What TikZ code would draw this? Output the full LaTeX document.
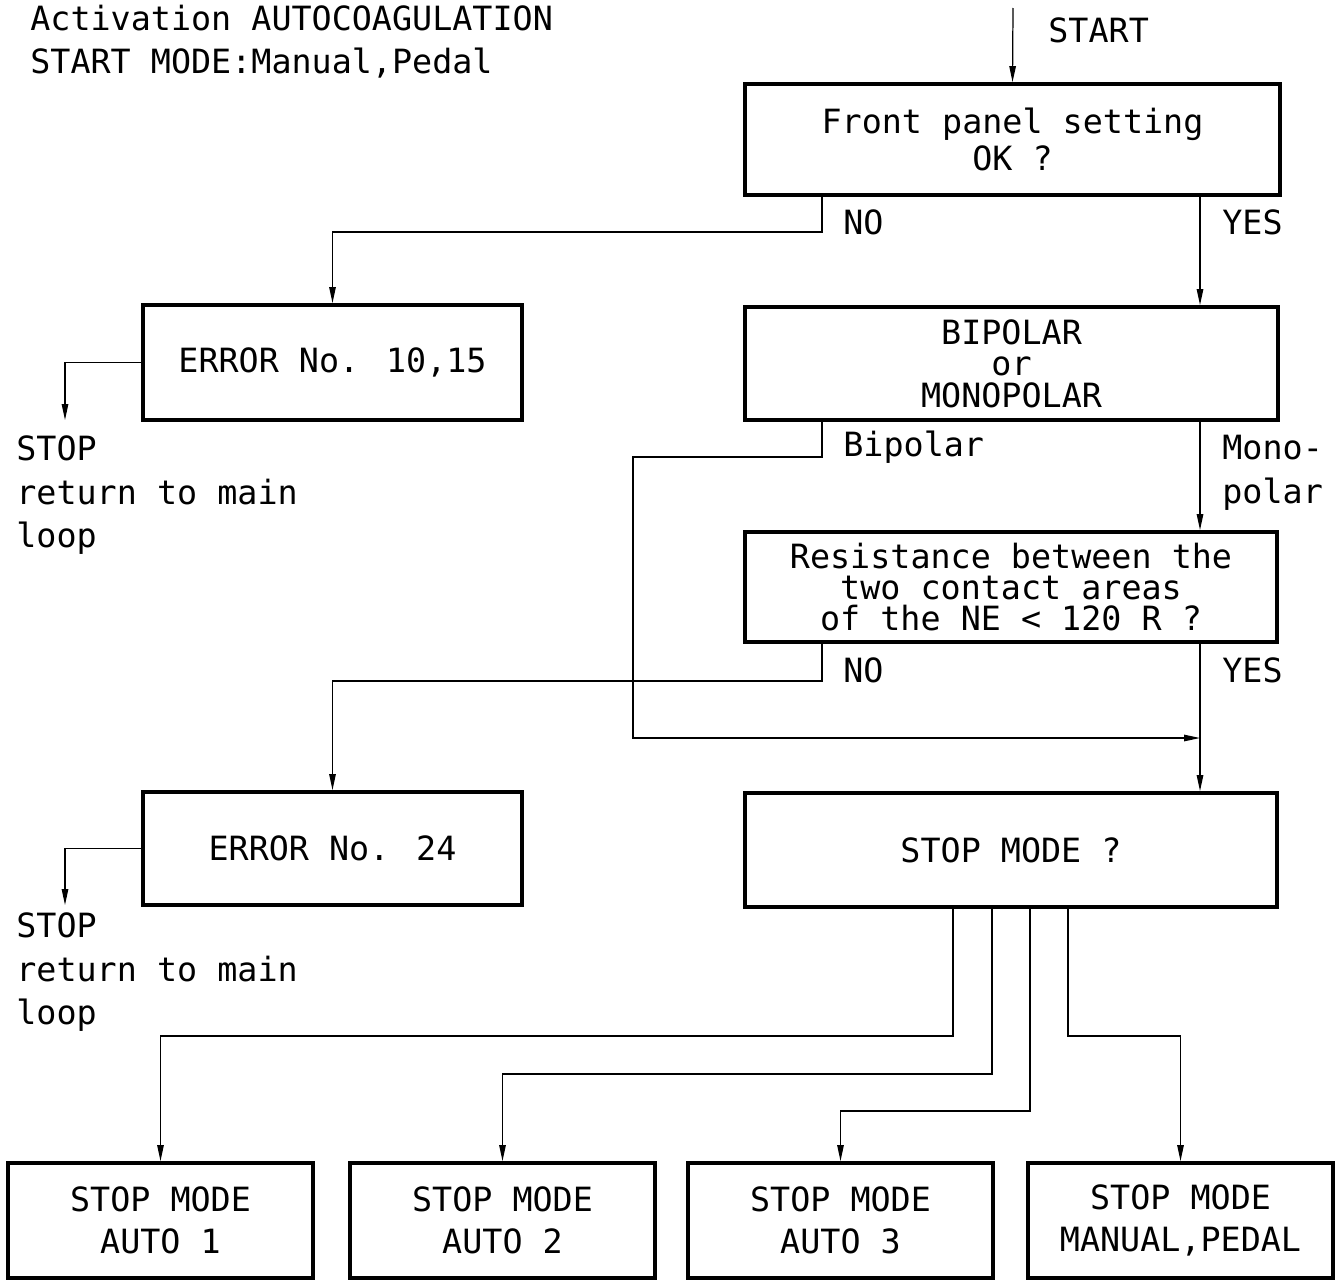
\documentclass[tikz,border=0pt]{standalone}
\usepackage{fontspec}
\setmainfont{DejaVu Sans Mono}
\usetikzlibrary{arrows.meta}

\begin{document}
\begin{tikzpicture}[
  x=0.02cm, y=-0.02cm,
  font=\fontsize{19}{18}\selectfont,
  box/.style={draw, line width=2.2pt, align=center, inner sep=0pt},
  arr/.style={-{Triangle[length=3.2mm, width=1.3mm]}, line width=0.7pt},
  lab/.style={anchor=west, inner sep=0pt, align=left}
]
\useasboundingbox (0,0) rectangle (1337,1281);
% heading
\node[lab, anchor=base west] (title) at (30,31) {Activation AUTOCOAGULATION};
\node[lab, anchor=base west] (smode) at (30,73) {START MODE:Manual,Pedal};
% decision boxes
\node[box, minimum width=535*0.02cm, minimum height=111*0.02cm, font=\fontsize{19}{21.5}\selectfont] (front) at (1012.5,139.5) {Front panel setting\\OK ?};
\node[box, minimum width=533*0.02cm, minimum height=113*0.02cm] (bimono) at (1011.5,363.5) {BIPOLAR\\or\\MONOPOLAR};
\node[box, minimum width=532*0.02cm, minimum height=110*0.02cm, font=\fontsize{19}{17.6}\selectfont] (resist) at (1011,587) {Resistance between the\\two contact areas\\of the NE < 120 R ?};
\node[box, minimum width=532*0.02cm, minimum height=114*0.02cm] (stopq) at (1011,850) {STOP MODE ?};
% error boxes
\node[box, minimum width=379*0.02cm, minimum height=115*0.02cm] (err1) at (332.5,362.5) {ERROR No. 10,15};
\node[box, minimum width=379*0.02cm, minimum height=113*0.02cm] (err2) at (332.5,848.5) {ERROR No. 24};
% result boxes
\foreach \name/\cx/\txt in {auto1/160.5/AUTO 1, auto2/502.5/AUTO 2, auto3/840.5/AUTO 3, manped/1180.5/{MANUAL,PEDAL}}
  \node[box, minimum width=305*0.02cm, minimum height=115*0.02cm, font=\fontsize{19}{24}\selectfont] (\name) at (\cx,1220.5) {STOP MODE\\\txt};
% stop texts
\node[lab, font=\fontsize{19}{25}\selectfont, anchor=north west] (stop1) at (16,435) {STOP\\return to main\\loop};
\node[lab, font=\fontsize{19}{25}\selectfont, anchor=north west] (stop2) at (16,912) {STOP\\return to main\\loop};
% tap points
\coordinate (start) at (1013,8);
\coordinate (fpno) at (822,195);
\coordinate (fpyes) at (1200,195);
\coordinate (bpl) at (822,420);
\coordinate (mono) at (1200,420);
\coordinate (rsno) at (822,642);
\coordinate (rsyes) at (1200,642);
\coordinate (merge) at (1200,738);
\coordinate (stop1tip) at (65,420);
\coordinate (stop2tip) at (65,905);
% arrows
\draw[arr] (start) -- (front.north);
\node[lab] (startlab) at (1048,30) {START};
\draw[arr] (fpno) -- ++(0,37) -| (err1.north);
\node[lab] (no1) at (843,222) {NO};
\draw[arr] (fpyes) -- (fpyes |- bimono.north);
\node[lab] (yes1) at (1222,222) {YES};
\draw[arr] (err1.west) -| (stop1tip);
\draw[arr] (err2.west) -| (stop2tip);
\draw[arr] (bpl) -- ++(0,37) -| (633,738) -- (merge);
\node[lab] (bip) at (843,447) {Bipolar};
\draw[arr] (mono) -- (mono |- resist.north);
\node[lab, font=\fontsize{19}{25}\selectfont, anchor=north west] (monolab) at (1222,435) {Mono-\\polar};
\draw[arr] (rsno) -- ++(0,39) -| (err2.north);
\node[lab] (no2) at (843,670) {NO};
\draw[arr] (rsyes) -- (rsyes |- stopq.north);
\node[lab] (yes2) at (1222,670) {YES};
% stop mode branches
\draw[arr] (stopq.south -| 953,0) -- (953,1036) -| (auto1.north);
\draw[arr] (stopq.south -| 992,0) -- (992,1074) -| (auto2.north);
\draw[arr] (stopq.south -| 1030,0) -- (1030,1111) -| (auto3.north);
\draw[arr] (stopq.south -| 1068,0) -- (1068,1036) -| (manped.north);
\end{tikzpicture}
\end{document}
